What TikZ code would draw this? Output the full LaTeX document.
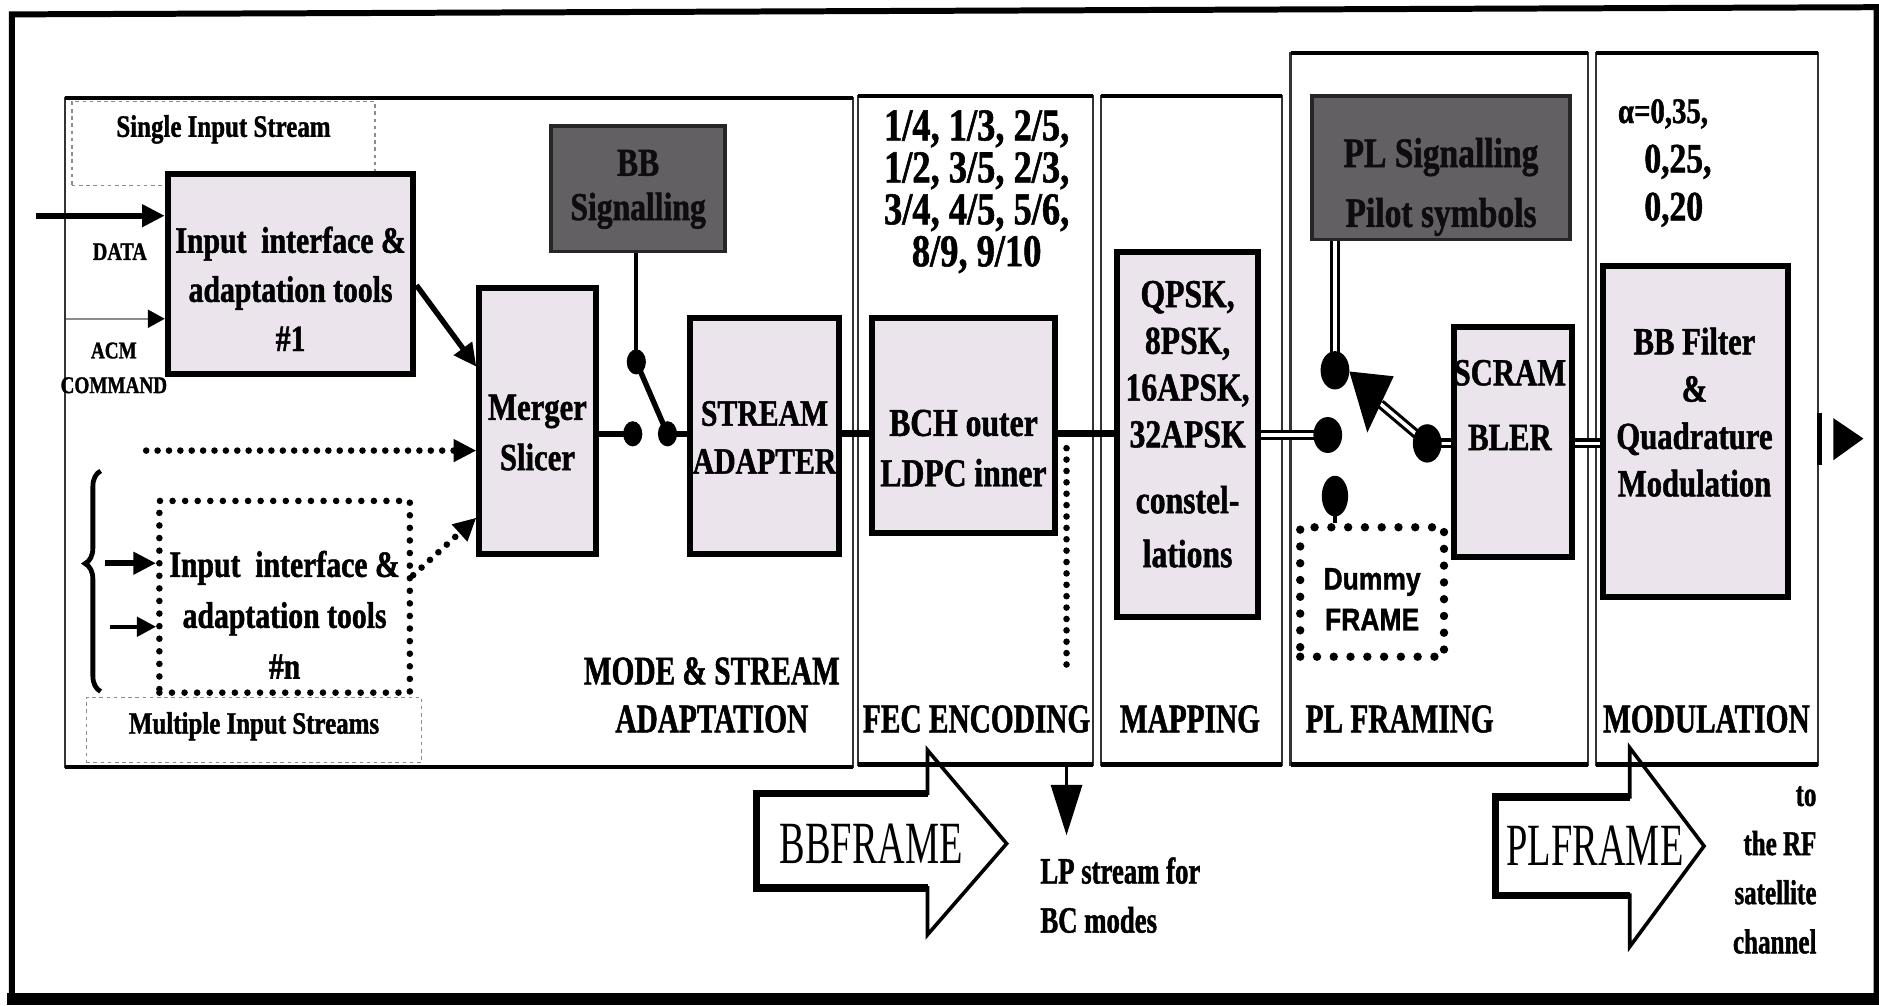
\documentclass[tikz,border=0pt]{standalone}
\usepackage{fontspec}
\setmainfont{Liberation Serif}[FakeStretch=0.8,BoldFeatures={FakeBold=1.2}]
\newfontfamily\lblfont{Liberation Serif}[FakeStretch=0.72,BoldFeatures={FakeBold=1.2}]
\newfontfamily\bigfont{Liberation Serif}[FakeStretch=0.64]
\newfontfamily\dsans{Liberation Sans}[FakeStretch=0.85,BoldFeatures={FakeBold=1.2}]
\usetikzlibrary{arrows.meta,decorations.pathreplacing}
\definecolor{boxfill}{HTML}{ECE4EC}
\definecolor{darkfill}{HTML}{626062}
\definecolor{darktext}{HTML}{0E0C0E}
\begin{document}
\begin{tikzpicture}[x=1pt,y=-1pt,
  panel/.style={draw=black!80,line width=2pt},
  blk/.style={draw=black,line width=5pt,fill=boxfill,inner sep=0pt},
  darkbox/.style={draw=black!85,line width=3pt,fill=darkfill,inner sep=0pt},
  dotbox/.style={draw=black,line width=5.5pt,line cap=round,dash pattern=on 0pt off 10.5pt,inner sep=0pt},
  dashbox/.style={draw=black!45,line width=1pt,dash pattern=on 3pt off 3pt,inner sep=0pt},
  btxt/.style={font=\fontsize{31}{41}\selectfont\bfseries,align=center,inner sep=0pt},
  lbl/.style={font=\lblfont\fontsize{34}{40}\selectfont\bfseries,align=center,inner sep=0pt},
  bigarr/.style={-{Triangle[length=19pt,width=18pt]}},
  dotline/.style={line width=5.5pt,line cap=round,dash pattern=on 0pt off 9.5pt},
  dbl/.style={draw=black,line width=2.6pt,double=white,double distance=3pt},
  pdot/.style={fill=black}
]
\useasboundingbox (0,0) rectangle (1568,839);
\fill[white] (0,0) rectangle (1568,839);
% outer frame
\draw[line width=5pt] (10,832) -- (10,12) -- (1566,6) -- (1566,832);
\fill (6,829) rectangle (1568,839);

% section panels
\foreach \xa/\ya/\xb/\yb in {54/82/712/640,716/80/912/638,919/80/1070/638,1077/44/1325/638,1332/44/1517/638}{
  \draw[panel] (\xa,\ya) rectangle (\xb,\yb);
  \draw[line width=3.5pt] (\xa,\ya) -- (\xb,\ya);
  \draw[line width=4pt] (\xa,\yb) -- (\xb,\yb);
}

% ---------- MODE & STREAM ADAPTATION ----------
\node[dashbox,minimum width=253pt,minimum height=70pt] (single) at (186.5,120) {};
\node[font=\fontsize{26}{28}\selectfont\bfseries,inner sep=0pt] (singlet) at (186.5,108) {Single Input Stream};

\node[blk,minimum width=205pt,minimum height=167pt] (in1) at (242.5,228.5) {};
\node[btxt] (in1t) at (242.5,241) {Input\ \ interface \&\\adaptation tools\\\#1};

\node[font=\fontsize{21}{24}\selectfont\bfseries,inner sep=0pt] (datat) at (100,210) {DATA};
\node[font=\fontsize{20}{29}\selectfont\bfseries,align=center,inner sep=0pt] (acmt) at (95,307) {ACM\\COMMAND};

\node[blk,minimum width=97pt,minimum height=222pt] (merger) at (448.5,351) {};
\node[btxt,font=\fontsize{32}{42}\selectfont\bfseries] (mergert) at (448.5,361) {Merger\\Slicer};

\node[darkbox,minimum width=145pt,minimum height=105pt] (bbsig) at (532.5,157.5) {};
\node[btxt,text=darktext,font=\fontsize{33}{37}\selectfont\bfseries] (bbsigt) at (532.5,158) {BB\\Signalling};

\node[blk,minimum width=124pt,minimum height=197pt] (stream) at (638,363.5) {};
\node[btxt,font=\fontsize{31}{40}\selectfont\bfseries] (streamt) at (638,365) {STREAM\\ADAPTER};

\node[dotbox,minimum width=209pt,minimum height=160pt] (inn) at (237.5,498) {};
\node[btxt,font=\fontsize{31}{42.5}\selectfont\bfseries] (innt) at (237.5,513) {Input\ \ interface \&\\adaptation tools\\\#n};

\node[dashbox,minimum width=280pt,minimum height=54pt] (multi) at (212,609) {};
\node[font=\fontsize{26}{28}\selectfont\bfseries,inner sep=0pt] (multit) at (212,606) {Multiple Input Streams};

\node[lbl] (modet) at (594,580) {MODE \& STREAM\\ADAPTATION};

% inputs
\coordinate (dataS) at (30,180);
\draw[line width=5pt,bigarr] (dataS) -- (dataS -| in1.west);
\coordinate (acmS) at (55,266);
\draw[line width=1.4pt,black!45,-{Triangle[length=14pt,width=15pt,color=black]}] (acmS) -- (acmS -| in1.west);
\draw[line width=4.5pt,bigarr] ([yshift=-9.5pt]in1.east) -- ([yshift=45pt]merger.west);

\coordinate (brA) at (84,577);
\coordinate (brB) at (84,393);
\draw[line width=4pt,decorate,decoration={brace,amplitude=13pt,aspect=0.58}] (brA) -- (brB);

\coordinate (dotS) at (122,376);
\draw[dotline,bigarr] (dotS) -- (dotS -| merger.west);
\draw[dotline,bigarr] ([yshift=18pt]inn.east) -- ([yshift=-81pt]merger.west);

\coordinate (inA) at (88,470);
\draw[line width=5pt,bigarr] (inA) -- (inA -| inn.west);
\coordinate (inB) at (92,523);
\draw[line width=3.5pt,-{Triangle[length=16pt,width=16pt]}] (inB) -- (inB -| inn.west);

% switch 1
\coordinate (sw1a) at (528,362);
\coordinate (sw1b) at (557,362);
\coordinate (sw1c) at (531,302);
\draw[line width=4.5pt] (merger.east |- sw1a) -- (sw1a);
\draw[line width=3.5pt] (sw1c |- bbsig.south) -- (sw1c);
\draw[line width=4.5pt] (sw1c) -- (sw1b);
\draw[line width=4.5pt] (sw1b) -- (sw1b -| stream.west);
\fill[pdot] (sw1a) ellipse [x radius=8pt,y radius=10.5pt];
\fill[pdot] (sw1b) ellipse [x radius=8pt,y radius=10.5pt];
\fill[pdot] (sw1c) ellipse [x radius=8pt,y radius=10.5pt];

% ---------- FEC ENCODING ----------
\node[font=\fontsize{38}{35}\selectfont\bfseries,align=center,inner sep=0pt] (rates) at (815,160) {1/4, 1/3, 2/5,\\1/2, 3/5, 2/3,\\3/4, 4/5, 5/6,\\8/9, 9/10};
\node[blk,minimum width=152pt,minimum height=180pt] (bch) at (804,355) {};
\node[btxt,font=\fontsize{33}{42}\selectfont\bfseries] (bcht) at (804,374) {BCH outer\\LDPC inner};
\node[lbl] (fect) at (815,600) {FEC ENCODING};

% ---------- MAPPING ----------
\node[blk,minimum width=118pt,minimum height=305pt] (qpsk) at (991,362.5) {};
\node[btxt,font=\fontsize{33}{39}\selectfont\bfseries] (qpskt) at (991,354) {QPSK,\\8PSK,\\16APSK,\\32APSK\\[16pt]constel-\\[6pt]lations};
\node[lbl] (mapt) at (993,600) {MAPPING};

\coordinate (lvl) at (0,362);
\draw[line width=6pt] (stream.east |- lvl) -- (bch.west |- lvl);
\draw[line width=6pt] (bch.east |- lvl) -- (qpsk.west |- lvl);

\coordinate (lpA) at (890,374);
\coordinate (lpB) at (890,560);
\draw[dotline] (lpA) -- (lpB);
\coordinate (lpC) at (890,638);
\coordinate (lpD) at (890,697);
\draw[line width=2pt,-{Triangle[length=42pt,width=26pt]}] (lpC) -- (lpD);
\node[anchor=west,font=\lblfont\fontsize{31}{41}\selectfont\bfseries,align=left,inner sep=0pt] (lpt) at (868,747) {LP stream for\\BC modes};

% ---------- PL FRAMING ----------
\node[darkbox,minimum width=215pt,minimum height=120pt] (plsig) at (1202.5,140) {};
\node[btxt,text=darktext,font=\fontsize{35}{50}\selectfont\bfseries] (plsigt) at (1202.5,156) {PL Signalling\\Pilot symbols};
\node[blk,minimum width=99pt,minimum height=192pt] (scram) at (1262.5,369) {};
\node[btxt,font=\fontsize{32}{54}\selectfont\bfseries] (scramt) at (1260,338) {SCRAM\\BLER};
\node[dotbox,line width=7pt,dash pattern=on 0pt off 14pt,minimum width=120pt,minimum height=108pt] (dummy) at (1145,494) {};
\node[font=\dsans\fontsize{26}{34}\selectfont\bfseries,align=center,inner sep=0pt] (dummyt) at (1145,500) {Dummy\\FRAME};
\node[lbl] (plft) at (1168,600) {PL FRAMING};

\coordinate (dU) at (1114,309);
\coordinate (dM) at (1108,363);
\coordinate (dL) at (1114,414);
\coordinate (dR) at (1191,370);
\coordinate (tipT) at (1126,310);
\coordinate (tipB1) at (1163,314);
\coordinate (tipB2) at (1141,361);
\coordinate (tipM) at (1152,337);
\draw[dbl] (qpsk.east |- dM) -- (dM);
\draw[dbl] (plsig.south -| dU) -- (dU);
\draw[dbl] (dR) -- (tipM);
\fill (tipT) -- (tipB1) -- (tipB2) -- cycle;
\draw[dbl] (dR) -- (scram.west |- dR);
\draw[line width=3pt] (dL) -- (dL |- dummy.north);
\fill[pdot] (dU) ellipse [x radius=12pt,y radius=16pt];
\fill[pdot] (dM) ellipse [x radius=12pt,y radius=15pt];
\fill[pdot] (dL) ellipse [x radius=11pt,y radius=17pt];
\fill[pdot] (dR) ellipse [x radius=12pt,y radius=16pt];

% ---------- MODULATION ----------
\node[anchor=west,font=\fontsize{30}{36}\selectfont\bfseries,inner sep=0pt] (ro1) at (1350,95) {α=0,35,};
\node[anchor=west,font=\fontsize{35}{36}\selectfont\bfseries,inner sep=0pt] (ro2) at (1372,135) {0,25,};
\node[anchor=west,font=\fontsize{35}{36}\selectfont\bfseries,inner sep=0pt] (ro3) at (1372,175) {0,20};
\node[blk,minimum width=154pt,minimum height=276pt] (bbfilt) at (1415,360) {};
\node[btxt,font=\fontsize{32}{39.5}\selectfont\bfseries] (bbfiltt) at (1414,344) {BB Filter\\\&\\Quadrature\\Modulation};
\node[lbl] (modt) at (1424,600) {MODULATION};
\draw[dbl] (scram.east |- dR) -- (bbfilt.west |- dR);

\draw[line width=4pt] (1518,345) -- (1518,388);
\fill (1530,349) -- (1555,366) -- (1530,384) -- cycle;

% ---------- bottom block arrows ----------
\draw[line width=3pt,line join=miter] (631,662) -- (774,662) -- (774,626) -- (840,704) -- (774,780) -- (774,741) -- (631,741) -- cycle;
\draw[line width=6pt] (774,662) -- (631,662) -- (631,741) -- (774,741);
\node[font=\bigfont\fontsize{50}{50}\selectfont,inner sep=0pt] (bbft) at (727,704) {BBFRAME};

\draw[line width=3pt,line join=miter] (1248,665) -- (1360,665) -- (1360,624) -- (1422,706) -- (1360,790) -- (1360,747) -- (1248,747) -- cycle;
\draw[line width=6pt] (1360,665) -- (1248,665) -- (1248,747) -- (1360,747);
\node[font=\bigfont\fontsize{50}{50}\selectfont,inner sep=0pt] (plft2) at (1331,706) {PLFRAME};

\node[anchor=east,align=right,font=\lblfont\fontsize{29}{41}\selectfont\bfseries,inner sep=0pt] (rft) at (1516,726) {to\\the RF\\satellite\\channel};
\end{tikzpicture}
\end{document}
